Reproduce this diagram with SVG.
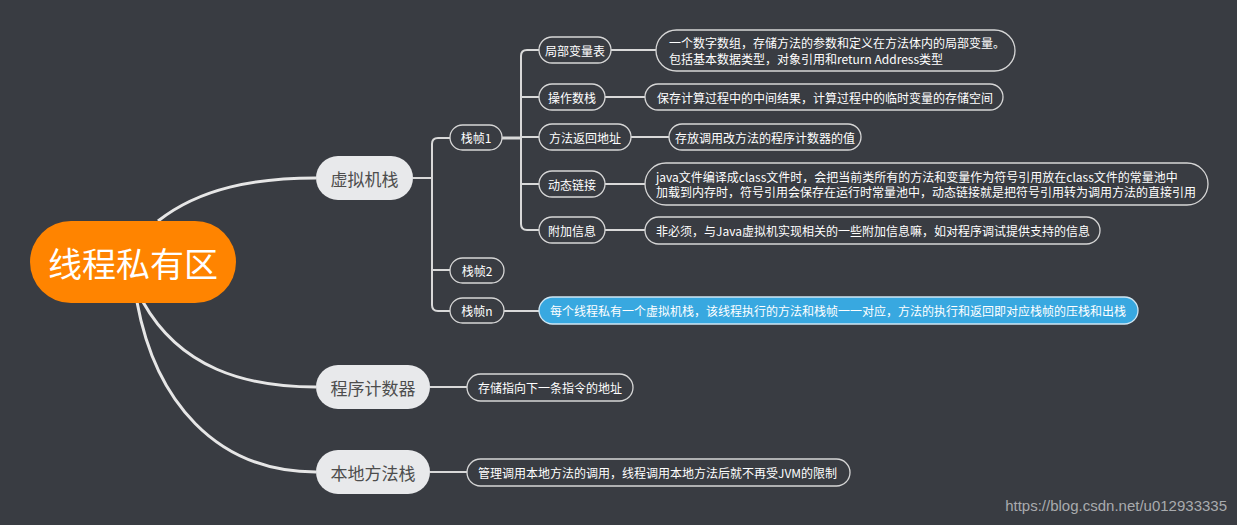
<svg xmlns="http://www.w3.org/2000/svg" width="1237" height="525" viewBox="0 0 1237 525">
<style>
text{font-family:"Noto Sans CJK SC","Noto Sans",sans-serif;dominant-baseline:central}
.c{text-anchor:middle}
.l1 rect{fill:#e8e9eb}
.l1 text{fill:#4d4d4d;font-size:17px;text-anchor:middle}
.sub rect{fill:#393c42;stroke:#d6d6d6;stroke-width:1.3}
.sub text{fill:#ffffff;font-size:12px}
.conn path{fill:none;stroke:#d9d9d9;stroke-width:2}
.conn .main{stroke:#e6e6e6;stroke-width:3}
</style>
<rect width="1237" height="525" fill="#393c42"/>
<g class="conn">
<path class="main" d="M158,221 C200,188 255,178 316,178"/>
<path class="main" d="M143,302 C180,368 245,387 316,387"/>
<path class="main" d="M137,302 C155,400 215,472 316,472"/>
<path d="M413,178 H432 M450,138 H438 Q432,138 432,144 V305 Q432,311 438,311 H450 M432,270 H450"/>
<path d="M502,138 H521" style="stroke-width:3"/>
<path d="M539,50 H527 Q521,50 521,56 V224 Q521,230 527,230 H539 M521,97 H539 M521,137 H539 M521,184 H539"/>
<path d="M611,50 H656 M605,97 H645 M631,137 H669 M605,184 H645 M605,230 H645 M504,311 H539 M430,387 H467 M430,472 H467"/>
</g>
<g id="root">
<rect x="30" y="221" width="206" height="82" rx="41" fill="#ff8400"/>
<text class="c" x="133" y="262" fill="#ffffff" font-size="34">线程私有区</text>
</g>
<g id="jvm-stack" class="l1">
<rect x="316" y="156" width="97" height="44" rx="22"/>
<text x="364.5" y="178">虚拟机栈</text>
</g>
<g id="pc" class="l1">
<rect x="316" y="365" width="114" height="44" rx="22"/>
<text x="373" y="387">程序计数器</text>
</g>
<g id="native-stack" class="l1">
<rect x="316" y="450" width="114" height="44" rx="22"/>
<text x="373" y="472">本地方法栈</text>
</g>
<g id="frame1" class="sub">
<rect x="450" y="125" width="52" height="25" rx="12.5"/>
<text class="c" x="476" y="137.5">栈帧1</text>
</g>
<g id="frame2" class="sub">
<rect x="450" y="258" width="54" height="25" rx="12.5"/>
<text class="c" x="477" y="270.5">栈帧2</text>
</g>
<g id="framen" class="sub">
<rect x="450" y="298" width="54" height="25" rx="12.5"/>
<text class="c" x="477" y="310.5">栈帧n</text>
</g>
<g id="local-vars" class="sub">
<rect x="539" y="37" width="72" height="26" rx="13"/>
<text class="c" x="575" y="50">局部变量表</text>
</g>
<g id="operand-stack" class="sub">
<rect x="539" y="84" width="66" height="26" rx="13"/>
<text class="c" x="572" y="97">操作数栈</text>
</g>
<g id="return-addr" class="sub">
<rect x="539" y="124" width="92" height="26" rx="13"/>
<text class="c" x="585" y="137">方法返回地址</text>
</g>
<g id="dyn-link" class="sub">
<rect x="539" y="171" width="66" height="26" rx="13"/>
<text class="c" x="572" y="184">动态链接</text>
</g>
<g id="extra-info" class="sub">
<rect x="539" y="217" width="66" height="26" rx="13"/>
<text class="c" x="572" y="230">附加信息</text>
</g>
<g id="leaf-local" class="sub">
<rect x="656" y="30" width="359" height="41" rx="20.5"/>
<text x="669" y="42.5">一个数字数组，存储方法的参数和定义在方法体内的局部变量。</text>
<text x="669" y="58">包括基本数据类型，对象引用和return Address类型</text>
</g>
<g id="leaf-operand" class="sub">
<rect x="645" y="84" width="358" height="26" rx="13"/>
<text x="657" y="97">保存计算过程中的中间结果，计算过程中的临时变量的存储空间</text>
</g>
<g id="leaf-return" class="sub">
<rect x="669" y="124" width="192" height="26" rx="13"/>
<text x="765" y="137" text-anchor="middle">存放调用改方法的程序计数器的值</text>
</g>
<g id="leaf-dyn" class="sub">
<rect x="645" y="163" width="563" height="42" rx="21"/>
<text x="656" y="176">java文件编译成class文件时，会把当前类所有的方法和变量作为符号引用放在class文件的常量池中</text>
<text x="656" y="191.5">加载到内存时，符号引用会保存在运行时常量池中，动态链接就是把符号引用转为调用方法的直接引用</text>
</g>
<g id="leaf-extra" class="sub">
<rect x="645" y="217" width="455" height="27" rx="13.5"/>
<text x="656" y="230.5">非必须，与Java虚拟机实现相关的一些附加信息嘛，如对程序调试提供支持的信息</text>
</g>
<g id="leaf-framen" class="sub">
<rect x="539" y="297" width="599" height="27" rx="13.5" style="fill:#38a8e0;stroke:#cfe6f3"/>
<text x="550" y="310.5">每个线程私有一个虚拟机栈，该线程执行的方法和栈帧一一对应，方法的执行和返回即对应栈帧的压栈和出栈</text>
</g>
<g id="leaf-pc" class="sub">
<rect x="467" y="374" width="166" height="27" rx="13.5"/>
<text x="478" y="387.5">存储指向下一条指令的地址</text>
</g>
<g id="leaf-native" class="sub">
<rect x="467" y="459" width="383" height="27" rx="13.5"/>
<text x="478" y="472.5">管理调用本地方法的调用，线程调用本地方法后就不再受JVM的限制</text>
</g>
<text x="1227" y="505" text-anchor="end" fill="#a9abae" font-size="15" style="font-family:'Liberation Sans',Arial,sans-serif">https://blog.csdn.net/u012933335</text>
</svg>
